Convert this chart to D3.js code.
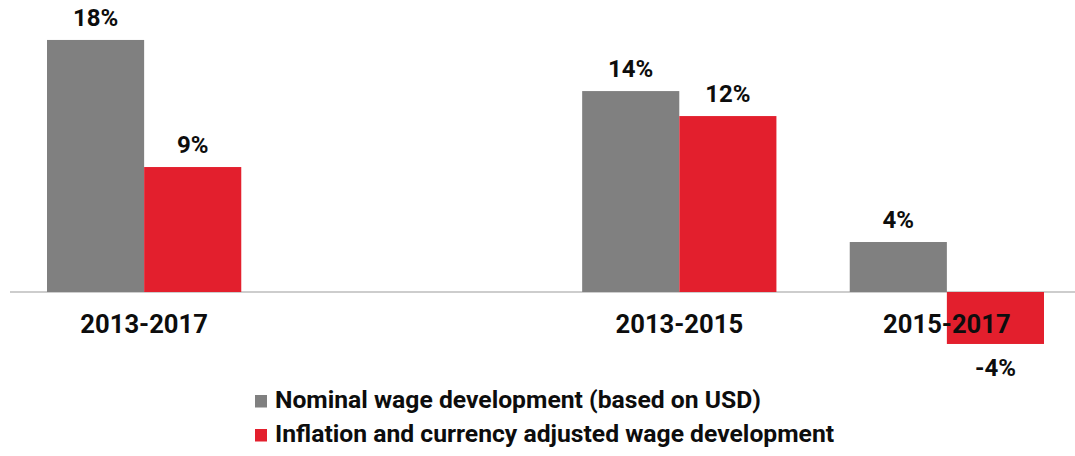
<!DOCTYPE html>
<html>
<head>
<meta charset="utf-8">
<script src="https://cdn.jsdelivr.net/npm/d3@7"></script>
<style>
  body { margin: 0; background: #fff; }
  svg { display: block; font-family: Roboto, "Liberation Sans", sans-serif; }
</style>
</head>
<body>
<svg width="1075" height="456"></svg>
<script>
// data (percent)
const periods = ["2013-2017", "", "2013-2015", "2015-2017"]; // blank slot keeps the gap
const seriesKeys = ["nominal", "adjusted"];
const seriesNames = ["Nominal wage development (based on USD)", "Inflation and currency adjusted wage development"];
const nominal = [17.75, null, 14.15, 3.52];
const adjusted = [8.8, null, 12.39, -3.66];
const colors = ["#808080", "#e31f2d"];

const svg = d3.select("svg");

const x = d3.scaleBand().domain(periods).range([47, 1044]).paddingInner(0.274).paddingOuter(0);
const xs = d3.scaleBand().domain(seriesKeys).range([0, x.bandwidth()]);
const y = d3.scaleLinear().domain([-4, 18]).range([292 + 4 * 14.2, 292 - 18 * 14.2]);
const color = d3.scaleOrdinal().domain(seriesKeys).range(colors);

const rows = periods.map((p, i) => ({ period: p, nominal: nominal[i], adjusted: adjusted[i] }))
  .filter(d => d.nominal !== null);

// baseline
svg.append("line")
  .attr("x1", 10).attr("x2", 1075)
  .attr("y1", y(0)).attr("y2", y(0))
  .attr("stroke", "#bdbdbd").attr("stroke-width", 1.5);

const groups = svg.append("g").selectAll("g")
  .data(rows).enter().append("g")
  .attr("transform", d => `translate(${x(d.period)},0)`);

const bars = groups.selectAll("g")
  .data(d => seriesKeys.map(k => ({ key: k, value: d[k] })))
  .enter().append("g");

bars.append("rect")
  .attr("x", d => xs(d.key))
  .attr("width", xs.bandwidth())
  .attr("y", d => y(Math.max(0, d.value)))
  .attr("height", d => Math.abs(y(d.value) - y(0)))
  .attr("fill", d => color(d.key));

// category labels, over the negative bar
const axis = svg.append("g")
  .attr("transform", `translate(0,${y(0)})`)
  .call(d3.axisBottom(x).tickSize(0).tickPadding(22.8));
axis.select(".domain").remove();
axis.selectAll("text")
  .attr("font-family", "Roboto, sans-serif")
  .attr("font-size", 25.6).attr("font-weight", 700).attr("fill", "#0d0d0d");

bars.append("text")
  .attr("x", d => xs(d.key) + xs.bandwidth() / 2)
  .attr("y", d => d.value >= 0 ? y(d.value) - 14 : y(d.value) + 32)
  .attr("text-anchor", "middle")
  .attr("font-size", 24).attr("font-weight", 700).attr("fill", "#0d0d0d")
  .text(d => Math.round(d.value) + "%");

// legend
const legend = svg.append("g").selectAll("g")
  .data(seriesKeys).enter().append("g")
  .attr("transform", (d, i) => `translate(255,${395 + i * 34})`);
legend.append("rect")
  .attr("width", 12).attr("height", 12.5)
  .attr("fill", d => color(d));
legend.append("text")
  .attr("x", 20).attr("y", 13)
  .attr("font-size", 24.7).attr("font-weight", 700).attr("fill", "#0d0d0d")
  .text((d, i) => seriesNames[i]);
</script>
</body>
</html>
